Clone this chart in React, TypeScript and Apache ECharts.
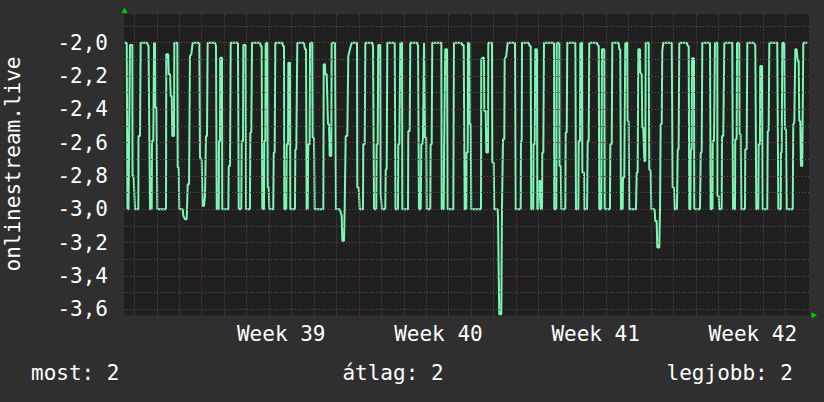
import React, { useEffect, useRef } from "react";
import * as echarts from "echarts";

// time in hours from the left edge of the graph, and the value at that time
const hours = [
  0.5, 2.9, 3.7, 4.8, 6.4, 8.9, 9.1, 10.2, 11.8, 15.3, 15.5, 17.1, 17.8, 24.3, 25.6, 26.2, 27.8, 29.6, 29.9, 31.3,
  32.1, 33.1, 33.4, 34.7, 35.6, 44.9, 45.2, 47.3, 47.8, 49.2, 49.9, 51.0, 51.6, 53.4, 53.8, 57.0, 57.4, 58.5, 59.1, 62.7,
  63.4, 65.2, 67.0, 68.1, 69.5, 70.5, 71.9, 73.4, 80.5, 81.2, 83.0, 84.1, 85.5, 86.6, 87.6, 88.7, 89.4, 97.2, 98.3, 99.1,
  101.2, 101.5, 102.6, 102.8, 104.7, 105.0, 111.5, 111.9, 113.3, 114.0, 121.8, 122.6, 125.3, 125.8, 127.2, 127.5, 130.0, 130.4, 134.6, 135.0,
  136.0, 136.8, 145.3, 146.1, 147.1, 147.8, 149.6, 149.9, 151.0, 151.4, 153.1, 153.6, 154.6, 155.3, 159.5, 160.0, 161.0, 161.7, 169.2, 169.9,
  171.0, 171.3, 173.4, 173.9, 175.3, 175.6, 177.4, 177.7, 182.7, 183.1, 184.1, 185.2, 192.3, 193.4, 194.5, 195.2, 196.3, 196.9, 198.4, 198.8,
  201.2, 201.6, 203.0, 203.8, 213.0, 213.4, 214.8, 215.1, 216.6, 218.0, 219.1, 219.8, 221.5, 221.9, 225.5, 226.5, 230.8, 231.6, 232.6, 233.3,
  235.1, 235.8, 236.9, 238.6, 239.7, 240.4, 242.3, 243.6, 249.0, 249.3, 250.8, 251.9, 255.4, 255.7, 257.2, 257.9, 265.0, 266.1, 266.8, 267.2,
  269.6, 270.0, 271.1, 271.7, 273.9, 274.3, 275.7, 279.2, 279.7, 280.7, 281.4, 289.3, 290.1, 292.8, 293.1, 294.2, 295.3, 297.1, 297.4, 303.5,
  303.8, 305.3, 305.9, 313.1, 314.2, 315.2, 317.1, 317.7, 318.8, 319.5, 320.6, 321.3, 321.6, 323.0, 323.5, 327.3, 327.7, 328.8, 329.4, 339.1,
  339.5, 341.6, 342.0, 342.7, 343.3, 345.2, 345.9, 351.9, 352.6, 360.4, 361.5, 363.0, 364.1, 365.8, 366.0, 367.3, 367.6, 369.0, 369.4, 370.5,
  371.1, 381.5, 381.8, 383.3, 384.7, 385.0, 386.5, 387.2, 389.0, 389.3, 393.2, 393.6, 395.1, 395.7, 399.3, 399.7, 401.0, 403.2, 403.9, 405.0,
  406.4, 406.8, 408.5, 410.0, 417.8, 418.6, 423.9, 424.2, 425.0, 425.3, 432.5, 433.5, 434.6, 435.2, 437.4, 437.6, 438.9, 439.5, 441.3, 441.7,
  442.7, 443.8, 444.9, 445.6, 446.7, 447.0, 448.1, 448.8, 459.5, 459.8, 462.0, 462.4, 465.2, 465.4, 466.7, 467.3, 471.6, 472.0, 473.1, 473.7,
  482.3, 483.0, 485.5, 485.9, 487.3, 487.6, 489.4, 489.8, 491.6, 491.9, 494.8, 495.5, 496.6, 497.2, 505.1, 506.2, 507.3, 507.9, 510.0, 510.8,
  513.2, 513.7, 519.3, 519.7, 521.2, 521.8, 528.6, 529.3, 530.3, 531.1, 532.9, 533.2, 534.6, 535.7, 537.8, 538.2, 539.3, 540.0, 547.1, 547.9,
  548.9, 549.6, 551.4, 551.7, 553.2, 553.9, 554.9, 556.0, 557.1, 557.5, 560.7, 561.3, 562.8, 563.5, 567.1, 567.7, 569.2, 569.9, 572.0, 572.8,
  573.5, 574.6, 575.2, 576.3, 585.3, 586.3, 587.7, 588.5, 590.9, 591.7, 592.7, 593.4, 601.3, 602.4, 603.4, 604.1, 605.2, 605.6, 606.6, 607.0,
  609.1, 609.4, 615.5, 616.3, 617.3, 618.0, 626.2, 626.9, 628.9, 629.1, 630.5, 631.5, 634.0, 634.2, 635.5, 636.1, 638.7, 639.0, 640.4, 641.5,
  650.0, 650.8, 652.9, 653.2, 654.7, 655.1, 657.5, 657.9, 659.0, 659.7, 663.6, 663.9, 665.4, 666.1, 673.2, 674.6, 675.0, 675.7, 677.8, 678.2,
  679.6, 679.9, 681.8, 682.5, 687.4, 687.9, 688.9, 689.6, 698.1, 699.2, 701.8, 702.0, 702.8, 703.5, 705.6, 706.3, 707.4, 708.2, 714.6, 715.2,
  716.3, 717.4, 718.8, 719.9, 721.0, 721.6, 722.7, 723.4, 724.8, 725.9, 730.2,
];

const values = [
  -2.0, -2.0, -3.0, -3.0, -2.014, -2.014, -2.8, -2.8, -3.0, -3.0, -2.56, -2.56, -2.0, -2.0, -2.014, -2.02, -3.0, -3.0, -2.59, -2.59,
  -2.0, -2.0, -2.39, -2.39, -3.0, -3.0, -2.07, -2.07, -2.19, -2.19, -2.32, -2.32, -2.56, -2.56, -2.0, -2.0, -2.75, -2.75, -3.0, -3.0,
  -3.04, -3.06, -3.06, -2.85, -2.85, -2.08, -2.07, -2.0, -2.0, -2.69, -2.7, -2.98, -2.98, -2.92, -2.56, -2.56, -2.0, -2.0, -2.02, -3.0,
  -3.0, -2.59, -2.59, -2.09, -2.09, -3.0, -3.0, -2.74, -2.74, -2.0, -2.0, -3.0, -3.0, -2.59, -2.59, -2.014, -2.014, -3.0, -3.0, -2.54,
  -2.54, -2.0, -2.0, -2.02, -2.02, -3.0, -3.0, -2.59, -2.59, -2.0, -2.0, -2.87, -2.87, -3.0, -3.0, -2.66, -2.66, -2.0, -2.0, -2.02,
  -2.02, -3.0, -3.0, -2.61, -2.61, -2.12, -2.12, -3.0, -3.0, -2.64, -2.64, -2.0, -2.0, -2.04, -2.04, -3.0, -3.0, -2.61, -2.61, -2.0,
  -2.0, -2.57, -2.57, -3.0, -3.0, -2.13, -2.13, -2.19, -2.19, -2.49, -2.49, -2.68, -2.68, -2.0, -2.0, -3.0, -3.0, -3.02, -3.04, -3.19,
  -3.19, -3.0, -2.56, -2.56, -2.08, -2.08, -2.02, -2.0, -2.0, -2.87, -2.87, -3.0, -3.0, -2.61, -2.61, -2.0, -2.0, -2.02, -2.02, -3.0,
  -3.0, -2.61, -2.61, -2.014, -2.014, -2.91, -3.0, -3.0, -2.76, -2.76, -2.0, -2.0, -3.0, -3.0, -2.61, -2.61, -2.0, -2.0, -3.0, -3.0,
  -2.53, -2.53, -2.0, -2.0, -2.02, -3.0, -3.0, -2.61, -2.61, -2.57, -2.0, -2.0, -2.57, -2.57, -3.0, -3.0, -2.61, -2.61, -2.0, -2.0,
  -3.0, -3.0, -2.68, -2.68, -2.04, -2.04, -3.0, -3.0, -2.0, -2.0, -2.014, -2.014, -3.0, -3.0, -2.66, -2.66, -2.0, -2.0, -2.49, -2.49,
  -3.0, -3.0, -2.1, -2.09, -2.09, -2.41, -2.41, -2.66, -2.66, -2.0, -2.0, -2.72, -2.72, -3.0, -3.0, -3.05, -3.63, -3.63, -3.0, -2.58,
  -2.58, -2.1, -2.08, -2.0, -2.0, -3.0, -3.0, -2.59, -2.59, -2.0, -2.0, -2.02, -2.02, -3.0, -3.0, -2.61, -2.61, -2.04, -2.04, -3.0,
  -3.0, -2.83, -2.83, -3.0, -3.0, -2.66, -2.66, -2.0, -2.0, -3.0, -3.0, -2.0, -2.0, -2.74, -2.74, -3.0, -3.0, -2.54, -2.54, -2.0,
  -2.0, -3.0, -3.0, -2.59, -2.59, -2.0, -2.0, -2.78, -2.78, -3.0, -3.0, -2.59, -2.59, -2.0, -2.0, -2.014, -2.02, -3.0, -3.0, -2.04,
  -2.04, -3.0, -3.0, -2.61, -2.61, -2.0, -2.0, -2.04, -2.04, -3.0, -3.0, -2.81, -2.81, -2.0, -2.0, -2.47, -2.47, -3.0, -3.0, -2.78,
  -2.78, -2.04, -2.04, -2.18, -2.19, -2.51, -2.51, -2.71, -2.71, -2.0, -2.0, -2.76, -2.77, -3.0, -3.0, -3.07, -3.07, -3.23, -3.23, -3.0,
  -2.49, -2.49, -2.05, -2.0, -2.0, -2.87, -2.87, -3.0, -3.0, -2.64, -2.64, -2.0, -2.0, -2.02, -2.02, -3.0, -3.0, -2.64, -2.64, -2.094,
  -2.094, -3.0, -3.0, -2.66, -2.66, -2.0, -2.0, -3.0, -3.0, -2.59, -2.59, -2.0, -2.0, -2.92, -2.92, -3.0, -3.0, -2.56, -2.56, -2.0,
  -2.0, -3.0, -3.0, -2.58, -2.58, -2.0, -2.0, -2.55, -2.55, -3.0, -3.0, -2.64, -2.64, -2.0, -2.0, -2.02, -2.02, -3.0, -3.0, -2.61,
  -2.61, -2.14, -2.14, -3.0, -3.0, -2.53, -2.53, -2.0, -2.0, -3.0, -3.0, -2.66, -2.66, -2.0, -2.0, -2.52, -2.52, -3.0, -3.0, -2.49,
  -2.48, -2.04, -2.04, -2.11, -2.11, -2.47, -2.47, -2.74, -2.74, -2.0, -2.0,
];

const yTickValues = [-2.0, -2.2, -2.4, -2.6, -2.8, -3.0, -3.2, -3.4, -3.6];
const yMinorValues = [-1.9, -2.1, -2.3, -2.5, -2.7, -2.9, -3.1, -3.3, -3.5];
const weekStarts = [83, 251, 419, 587];
const dayLines = [
  11, 35, 59, 107, 131, 155, 179, 203, 227, 275, 299, 323, 347, 371, 395,
  443, 467, 491, 515, 539, 563, 611, 635, 659, 683, 707,
];
const weekTicks = [168, 336, 504, 672];
const weekLabels = ["Week 39", "Week 40", "Week 41", "Week 42"];
const yAxisTitle = "onlinestream.live";
const legendItems = ["most: 2", "átlag: 2", "legjobb: 2"];

const FONT_FAMILY = '"DejaVu Sans Mono", monospace';
const FONT_SIZE = 21;
const TEXT_COLOR = "#ffffff";
const LINE_COLOR = "#7df7b6";
const GRAY_GRID = { color: "#555555", width: 1, type: [1, 2] as number[] };
const RED_GRID = { color: "#7e3a3a", width: 1, type: [1, 2] as number[] };

function textStyle(text: string, align: string) {
  return {
    text,
    fill: TEXT_COLOR,
    font: `${FONT_SIZE}px ${FONT_FAMILY}`,
    fontFamily: FONT_FAMILY,
    fontSize: FONT_SIZE,
    align,
    textAlign: align,
    verticalAlign: "middle",
    textVerticalAlign: "middle",
  };
}

export default function App() {
  const ref = useRef<HTMLDivElement>(null);

  useEffect(() => {
    if (!ref.current) return;
    const chart = echarts.init(ref.current, null, { renderer: "svg" });

    const gridLines = [
      ...yMinorValues.map((v) => ({ yAxis: v, lineStyle: GRAY_GRID })),
      ...dayLines.map((v) => ({ xAxis: v, lineStyle: GRAY_GRID })),
      ...yTickValues.map((v) => ({ yAxis: v, lineStyle: RED_GRID })),
      ...weekStarts.map((v) => ({ xAxis: v, lineStyle: RED_GRID })),
    ];

    const option: any = {
      animation: false,
      backgroundColor: "#2f2f2f",
      grid: {
        left: 124,
        right: 15,
        top: 14,
        bottom: 86.5,
        show: true,
        backgroundColor: "#202020",
        borderWidth: 0,
        containLabel: false,
        outerBoundsMode: "none",
      },
      xAxis: {
        type: "value",
        min: 0,
        max: 732,
        axisLine: { show: false },
        axisTick: { show: false },
        splitLine: { show: false },
        axisLabel: {
          customValues: weekTicks,
          formatter: (v: number) => {
            const i = weekTicks.indexOf(v);
            return i >= 0 ? weekLabels[i] : "";
          },
          color: TEXT_COLOR,
          fontFamily: FONT_FAMILY,
          fontSize: FONT_SIZE,
          margin: 8,
        },
      },
      yAxis: {
        type: "value",
        min: -3.638,
        max: -1.828,
        axisLine: { show: false },
        axisTick: { show: false },
        splitLine: { show: false },
        axisLabel: {
          customValues: yTickValues,
          formatter: (v: number) => v.toFixed(1).replace(".", ","),
          color: TEXT_COLOR,
          fontFamily: FONT_FAMILY,
          fontSize: FONT_SIZE,
          margin: 16,
        },
      },
      series: [
        {
          type: "line",
          data: [],
          silent: true,
          z: 1,
          markLine: {
            silent: true,
            animation: false,
            symbol: ["none", "none"],
            label: { show: false },
            emphasis: { disabled: true },
            data: gridLines,
          },
        },
        {
          type: "line",
          data: hours.map((h, i) => [h, values[i]]),
          showSymbol: false,
          symbol: "none",
          silent: true,
          z: 3,
          lineStyle: { color: LINE_COLOR, width: 2 },
          itemStyle: { color: LINE_COLOR },
        },
      ],
      graphic: [
        {
          type: "polygon",
          shape: { points: [[124.5, 7.5], [121.5, 13], [127.5, 13]] },
          style: { fill: "#00cc00" },
        },
        {
          type: "polygon",
          shape: { points: [[817, 315.3], [811.5, 312.3], [811.5, 318.3]] },
          style: { fill: "#00cc00" },
        },
        {
          type: "text",
          x: 13,
          y: 164,
          rotation: Math.PI / 2,
          style: textStyle(yAxisTitle, "center"),
        },
        { type: "text", x: 31, y: 373, style: textStyle(legendItems[0], "left") },
        { type: "text", x: 393, y: 373, style: textStyle(legendItems[1], "center") },
        { type: "text", x: 793, y: 373, style: textStyle(legendItems[2], "right") },
      ],
    };

    chart.setOption(option);
    return () => chart.dispose();
  }, []);

  return (
    <div
      ref={ref}
      style={{ position: "absolute", left: 0, top: 0, width: 824, height: 402 }}
    />
  );
}
